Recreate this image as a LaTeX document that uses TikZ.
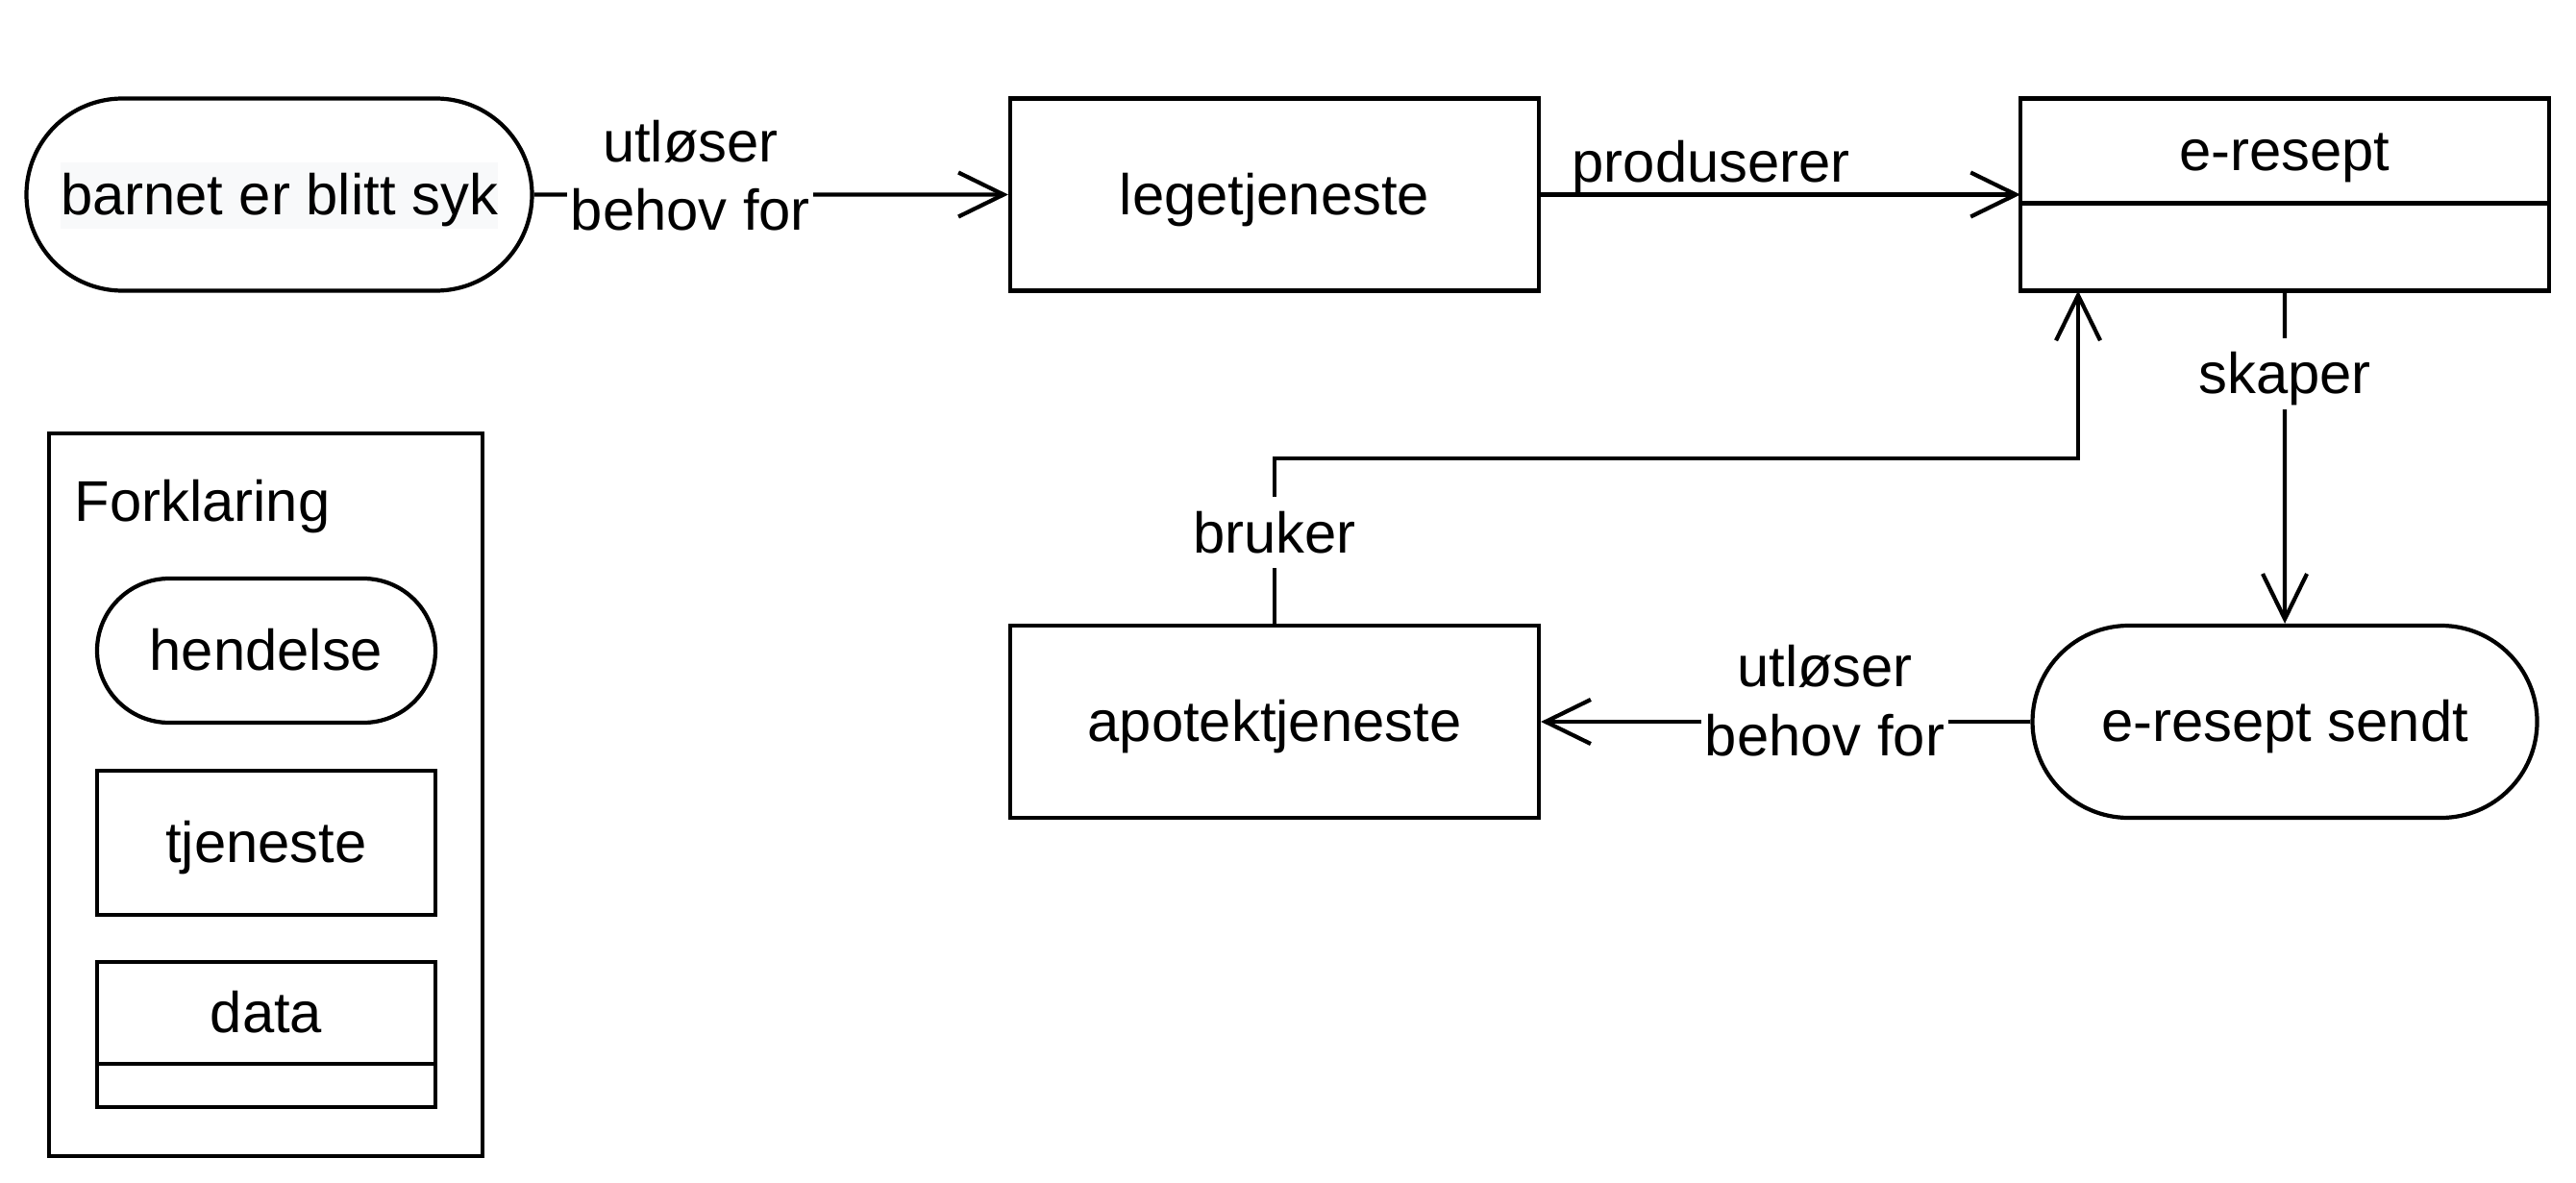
\documentclass[tikz,border=0pt]{standalone}
\usepackage{fontspec}
\setmainfont{Liberation Sans}
\usepackage{tikz}
\usetikzlibrary{arrows.meta,positioning,shapes.misc}
\usepackage{xcolor}
\definecolor{hlgray}{HTML}{F8F9FA}
\newcommand{\dfont}{\fontsize{17}{20.4}\selectfont}
\newcommand{\hltext}[1]{{\setlength\fboxsep{0pt}%
  \colorbox{hlgray}{\rule[-4.3pt]{0pt}{19.7pt}#1}}}
\tikzset{
  linebox/.style={text height=15.4pt, text depth=3.6pt},
  event/.style  ={draw, rounded rectangle, minimum height=2cm, linebox,
                  inner sep=0pt, line width=1.2pt, font=\dfont},
  service/.style={draw, rectangle, minimum width=5.5cm, minimum height=2cm,
                  linebox, inner sep=0pt, line width=1.2pt, font=\dfont},
  dathead/.style={draw, rectangle, minimum width=5.5cm, minimum height=1.09cm,
                  linebox, inner sep=0pt, outer sep=0pt, line width=1.2pt,
                  font=\dfont},
  datbody/.style={draw, rectangle, minimum width=5.5cm, minimum height=0.91cm,
                  inner sep=0pt, outer sep=0pt, line width=1.2pt},
  legbox/.style ={draw, rectangle, minimum width=4.51cm, minimum height=7.52cm,
                  inner sep=0pt, line width=1.2pt},
  flow/.style   ={-{Straight Barb[length=4.7mm,width=4.6mm]}, line width=1.2pt},
  lbl/.style    ={font=\dfont, fill=white, inner sep=1pt, align=center},
  txt/.style    ={font=\dfont, inner sep=0pt, linebox},
}

\begin{document}
\begin{tikzpicture}
  \useasboundingbox (0,0) rectangle (26.8,-12.3);
  % main flow
  \node[event, minimum width=5.26cm] (syk) at (2.905,-2.025)
    {\hltext{barnet er blitt syk}};
  \node[service] (lege)   at (13.26,-2.025) {legetjeneste};
  \node[dathead] (erhead) at (23.77,-1.57)  {e-resept};
  \node[datbody, below=0pt of erhead] (erbody) {};
  \node[event, minimum width=5.25cm] (sendt) at (23.77,-7.51) {e-resept sendt};
  \node[service] (apotek) at (13.26,-7.51) {apotektjeneste};
  \coordinate (bk) at (21.62,-4.77);

  \draw[flow] (syk) -- (lege)
    node[lbl, pos=0.33, yshift=2mm] {utløser\\behov for};
  \draw[flow] (lege.east) -- (lege.east -| erhead.west)
    node[txt, pos=0.355, above=-0.4pt] {produserer};
  \draw[flow] (erbody) -- (sendt)
    node[lbl, linebox, pos=0.25] {skaper};
  \draw[flow] (sendt) -- (apotek)
    node[lbl, pos=0.42, yshift=2.2mm] {utløser\\behov for};
  \draw[flow] (apotek.north) -- node[lbl, linebox, pos=0.55] {bruker}
    (apotek.north |- bk) -- (bk) -- (bk |- erbody.south);

  % legend
  \node[legbox] (legend) at (2.767,-8.27) {};
  \node[txt, anchor=west] (forkl) at (0.77,-5.22) {Forklaring};
  \node[event, minimum width=3.52cm, minimum height=1.5cm] (leghend)
    at (2.77,-6.77) {hendelse};
  \node[service, minimum width=3.52cm, minimum height=1.5cm] (legtjen)
    at (2.77,-8.77) {tjeneste};
  \node[dathead, minimum width=3.52cm, minimum height=1.06cm] (legdath)
    at (2.77,-10.54) {data};
  \node[datbody, minimum width=3.52cm, minimum height=0.45cm,
        below=0pt of legdath] (legdatb) {};
\end{tikzpicture}
\end{document}
